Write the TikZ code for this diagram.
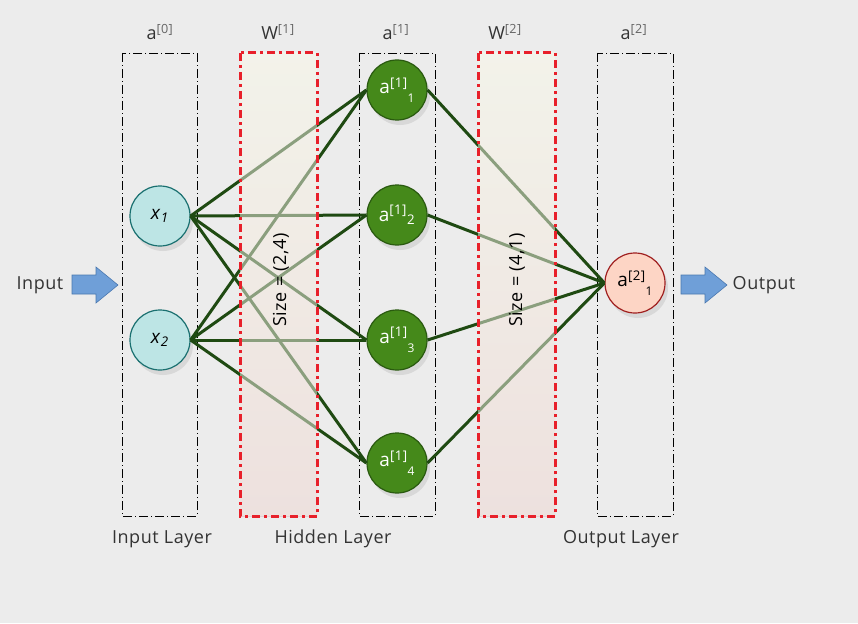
\documentclass[tikz,border=0pt]{standalone}
\usepackage{fontspec}
\setmainfont[LetterSpace=3]{Open Sans}
\usetikzlibrary{positioning,shadows,calc}

\definecolor{bgcol}{HTML}{ECECEC}
\definecolor{txtcol}{HTML}{333333}
\definecolor{supcol}{HTML}{666666}
\definecolor{wred}{HTML}{E8202A}
\definecolor{wtop}{HTML}{EFF2EA}
\definecolor{wbot}{HTML}{E4CED3}
\definecolor{wveil}{HTML}{F7F4EA}
\definecolor{edgecol}{HTML}{1F4A12}
\definecolor{infill}{HTML}{BDE5E5}
\definecolor{indraw}{HTML}{1A7070}
\definecolor{hidfill}{HTML}{45891A}
\definecolor{hiddraw}{HTML}{2A5A10}
\definecolor{outfill}{HTML}{FDD5C5}
\definecolor{outdraw}{HTML}{A02020}
\definecolor{arrfill}{HTML}{6F9FD8}
\definecolor{arrdraw}{HTML}{4A78B0}

\newcommand{\lyr}[2]{#1\textsuperscript{\color{supcol}[#2]}}

\begin{document}
\begin{tikzpicture}[x=1pt,y=-1pt,
  font=\fontsize{18}{21}\selectfont\color{txtcol},
  layerbox/.style={draw=black, line width=0.8pt, dash pattern=on 9pt off 3pt on 1pt off 3pt},
  wshade/.style={top color=wtop, bottom color=wbot},
  wveil/.style={fill=wveil, fill opacity=0.5},
  wline/.style={draw=wred, line width=3pt, dash pattern=on 8pt off 4pt on 3pt off 4pt},
  neuron/.style={circle, minimum size=60pt, inner sep=0pt, line width=1.2pt,
    font=\fontsize{19}{21}\selectfont,
    drop shadow={opacity=0.18, shadow xshift=3pt, shadow yshift=-5pt}},
  inode/.style={neuron, fill=infill, draw=indraw, text=black},
  hnode/.style={neuron, fill=hidfill, draw=hiddraw, text=white},
  onode/.style={neuron, fill=outfill, draw=outdraw, text=black},
  edge/.style={draw=edgecol, line width=3pt},
  bigarrow/.style={fill=arrfill, draw=arrdraw, line width=0.6pt}
]
  % background
  \fill[bgcol] (0,0) rectangle (858,623);

  % layer boxes
  \draw[layerbox] (122,53) rectangle (197,516);
  \draw[layerbox] (359,53) rectangle (435,516);
  \draw[layerbox] (597,53) rectangle (673,516);
  % weight boxes (under the lines)
  \shade[wshade] (240,53) rectangle (317,516);
  \shade[wshade] (478,53) rectangle (555,516);

  % top labels
  \node (lbla0) at (160,32) {\lyr{a}{0}};
  \node (lblw1) at (278,32) {\lyr{W}{1}};
  \node (lbla1) at (396,32) {\lyr{a}{1}};
  \node (lblw2) at (505,32) {\lyr{W}{2}};
  \node (lbla2) at (634,32) {\lyr{a}{2}};

  % neurons
  \node[inode] (x1) at (160,216) {\textit{x}\textsubscript{\textit{1}}};
  \node[inode] (x2) at (160,340) {\textit{x}\textsubscript{\textit{2}}};
  \node[hnode] (h1) at (397,90) {a\textsuperscript{[1]}\raisebox{-0.9ex}{\fontsize{12}{12}\selectfont 1}};
  \node[hnode] (h2) at (397,215) {a\textsuperscript{[1]}\textsubscript{2}};
  \node[hnode] (h3) at (397,340) {a\textsuperscript{[1]}\raisebox{-0.9ex}{\fontsize{12}{12}\selectfont 3}};
  \node[hnode] (h4) at (397,463) {a\textsuperscript{[1]}\raisebox{-0.9ex}{\fontsize{12}{12}\selectfont 4}};
  \node[onode] (out) at (635,283) {a\textsuperscript{[2]}\raisebox{-0.9ex}{\fontsize{12}{12}\selectfont 1}};

  % connections
  \foreach \i in {x1,x2}
    \foreach \j in {1,...,4}
      \draw[edge] (\i.east) -- (h\j.west);
  \foreach \j in {1,...,4}
    \draw[edge] (h\j.east) -- (out.west);

  % weight boxes (veil over the lines)
  \fill[wveil] (240,53) rectangle (317,516);
  \fill[wveil] (478,53) rectangle (555,516);
  \draw[wline] (240,53) rectangle (317,516);
  \draw[wline] (478,53) rectangle (555,516);
  \node[rotate=90, text=black] (size1) at (281,280) {Size = (2,4)};
  \node[rotate=90, text=black] (size2) at (517,280) {Size = (4,1)};

  % input / output arrows
  \draw[bigarrow] (72,275) -- (96,275) -- (96,267) -- (118,285)
    -- (96,303) -- (96,294) -- (72,294) -- cycle;
  \draw[bigarrow] (681,275) -- (705,275) -- (705,267) -- (727,285)
    -- (705,303) -- (705,294) -- (681,294) -- cycle;
  \node (input) at (40,285) {Input};
  \node (output) at (764,285) {Output};

  % bottom labels
  \node (lblin) at (162,539) {Input Layer};
  \node (lblhid) at (333,539) {Hidden Layer};
  \node (lblout) at (621,539) {Output Layer};
\end{tikzpicture}
\end{document}
